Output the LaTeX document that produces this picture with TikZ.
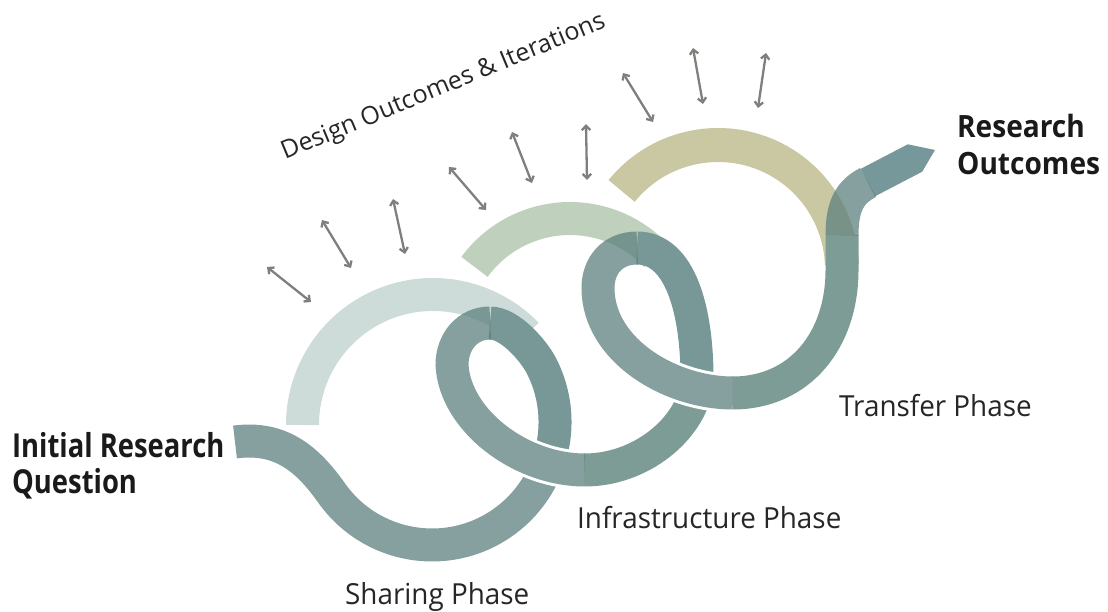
\documentclass[tikz,border=0pt]{standalone}
\usepackage{fontspec}
\setmainfont{Open Sans}
\usetikzlibrary{arrows.meta}
\definecolor{lightA}{HTML}{CDDCD9}
\definecolor{lightB}{HTML}{BFD1BC}
\definecolor{lightC}{HTML}{C9C8A2}
\definecolor{dL}{RGB}{94,128,127}
\definecolor{dD}{RGB}{83,123,115}
\definecolor{dT}{RGB}{119,152,151}
\definecolor{dG}{RGB}{126,156,150}
\definecolor{dP}{RGB}{74,118,120}
\definecolor{agray}{HTML}{7F7F7B}
\definecolor{txt}{HTML}{1A1A1A}
\definecolor{txtb}{HTML}{262626}
\tikzset{
  lightarc/.style={line width=33pt},
  dk/.style={line width=33pt, draw opacity=0.75},
  dkj/.style={dk, shorten <=-0.3pt},
  dko/.style={line width=33pt},
  halo/.style={draw=white, line width=39pt},
  dbl/.style={draw=agray, line width=2.3pt, {Straight Barb[length=4.5pt,width=8.5pt]}-{Straight Barb[length=4.5pt,width=8.5pt]}},
  head/.style={font=\fontsize{33}{36}\selectfont\bfseries, text=txt, inner sep=0pt, xscale=0.83, anchor=base west},
  lab/.style={font=\fontsize{29}{32}\selectfont, text=txtb, inner sep=0pt, xscale=0.96, anchor=base west}
}
\begin{document}
\begin{tikzpicture}[x=1pt,y=-1pt]
\useasboundingbox (0,0) rectangle (1108,612);
% centres of the three phase circles
\coordinate (c1) at (433,425);
\coordinate (c2) at (570,337);
\coordinate (c3) at (718,269);
% light upper arcs
\draw[lightarc, draw=lightA] (c1) ++(180:130.5) arc[start angle=180, end angle=316, radius=130.5];
\draw[lightarc, draw=lightB] (c2) ++(216.3:118.5) arc[start angle=216.3, end angle=316.5, radius=118.5];
\draw[lightarc, line width=34pt, draw=lightC] (c3) ++(219:124) arc[start angle=219, end angle=358, radius=124];
% dark ribbon, piece by piece
\draw[dk, draw=dL] (235,442) .. controls (280,436) and (307,458.3) .. (331.4,492.7)
   arc[start angle=144.9, end angle=20, radius=123];
\draw[dko, draw=dT] (547.6,464.1) arc[start angle=20, end angle=-27, radius=123]
   .. controls (533.9,351) and (510,323) .. (490,323);
\begin{scope}
\clip (547,467) circle (42);
\draw[halo] (452,365) .. controls (455,420) and (520,470) .. (585,470)
   .. controls (640,470) and (690,430) .. (697,385);
\end{scope}
\draw[dkj, draw=dL] (490,323) .. controls (467,323) and (452,342) .. (452,365)
   .. controls (455,420) and (520,470) .. (585,470);
\draw[dkj, draw=dD] (585,470) .. controls (640,470) and (690,430) .. (697,385);
\draw[dko, draw=dT] (697,385) .. controls (698,310) and (680,248) .. (637,248);
\begin{scope}
\clip (693,388) circle (40);
\draw[halo] (598,288) .. controls (598,350) and (670,393) .. (733,393)
   .. controls (800,393) and (842,340) .. (842,270);
\end{scope}
\draw[dkj, draw=dL] (637,248) .. controls (612,248) and (598,266) .. (598,288)
   .. controls (598,350) and (670,393) .. (733,393);
\draw[dko, draw=dG, shorten <=-0.5pt] (733,393) .. controls (800,393) and (842,340) .. (842,270) -- (842,235);
\draw[dkj, draw=dL] (842,235) .. controls (842,205) and (850.3,191.7) .. (868,182.5);
\fill[dP, fill opacity=0.75] (860.6,168.9) -- (907.8,144.3) -- (935,150) -- (922.2,171.7) -- (875.0,196.3) -- cycle;
% double arrows
\coordinate (a1s) at (267,267); \coordinate (a1e) at (311,302);
\coordinate (a2s) at (322,220); \coordinate (a2e) at (351,268);
\coordinate (a3s) at (393,199); \coordinate (a3e) at (405,254);
\coordinate (a4s) at (449,167); \coordinate (a4e) at (486,210);
\coordinate (a5s) at (512,132); \coordinate (a5e) at (532,183);
\coordinate (a6s) at (586,124); \coordinate (a6e) at (587,180);
\coordinate (a7s) at (623,73);  \coordinate (a7e) at (653,122);
\coordinate (a8s) at (693,48);  \coordinate (a8e) at (703,104);
\coordinate (a9s) at (766,53);  \coordinate (a9e) at (758,108);
\foreach \i in {1,...,9} { \draw[dbl] (a\i s) -- (a\i e); }
% texts
\node[font=\fontsize{25}{28}\selectfont, text=txtb, inner sep=0pt, anchor=base west, rotate=22.5] (design) at (285,160) {Design Outcomes \& Iterations};
\node[head] (irq1) at (12,457) {Initial Research};
\node[head] (irq2) at (12,493) {Question};
\node[head, xscale=1.025, yscale=0.93] (ro1) at (957,138) {Research};
\node[head, xscale=1.025, yscale=0.93] (ro2) at (957,175) {Outcomes};
\node[lab] (sp) at (345,604) {Sharing Phase};
\node[lab] (ip) at (577,528) {Infrastructure Phase};
\node[lab] (tp) at (839,416) {Transfer Phase};
\end{tikzpicture}
\end{document}
